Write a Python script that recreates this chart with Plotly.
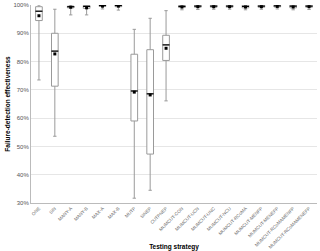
import plotly.graph_objects as go

categories = ["ONE", "SIN", "MANY-A", "MANY-B", "MAX-A", "MAX-B", "MUTP", "SINEP", "CUTPNEP",
              "MUMCUT-CON", "MUMCUT-UCN", "MUMCUT-UNC", "MUMCUT-NCU", "MUMCUT-RCoMA",
              "MUMCUT-MENFP", "MUMCUT-MENEFP", "MUMCUT-RCoMAMENFP", "MUMCUT-RCoMAMENEFP"]
lower = [73.5, 53.6, 96.5, 96.5, 98.6, 98.2, 31.7, 34.5, 66.1,
         98.3, 98.4, 98.5, 98.5, 98.3, 98.5, 98.6, 98.3, 98.4]
q1 = [94.5, 71.3, 99.0, 98.8, 99.5, 99.4, 59.0, 47.3, 80.4,
      99.1, 99.2, 99.2, 99.2, 99.0, 99.2, 99.3, 99.0, 99.2]
median = [97.8, 83.7, 99.4, 99.5, 99.8, 99.8, 69.6, 68.6, 85.9,
          99.5, 99.6, 99.6, 99.6, 99.5, 99.6, 99.7, 99.6, 99.6]
q3 = [99.4, 90.0, 99.6, 99.8, 100.0, 100.0, 82.6, 84.2, 89.3,
      99.8, 99.9, 99.9, 99.9, 99.9, 99.9, 99.9, 99.9, 99.9]
upper = [100.0, 98.5, 100.0, 100.0, 100.0, 100.0, 91.4, 95.3, 98.0,
         100.0, 100.0, 100.0, 100.0, 100.0, 100.0, 100.0, 100.0, 100.0]
mean = [96.2, 82.7, 99.2, 99.0, 99.6, 99.6, 69.2, 68.2, 84.7,
        99.3, 99.4, 99.4, 99.4, 99.3, 99.4, 99.5, 99.3, 99.4]

fig = go.Figure()
fig.add_trace(go.Box(
    x=categories, q1=q1, median=median, q3=q3,
    lowerfence=lower, upperfence=upper,
    fillcolor="white", line=dict(color="#9a9a9a", width=1),
    width=0.42, whiskerwidth=0.5, boxpoints=False, showlegend=False,
    hoverinfo="skip"))
fig.add_trace(go.Scatter(
    x=categories, y=median, mode="markers", showlegend=False,
    marker=dict(symbol="line-ew", size=5, line=dict(color="black", width=1.2))))
fig.add_trace(go.Scatter(
    x=categories, y=mean, mode="markers", showlegend=False,
    marker=dict(symbol="square", size=3, color="black")))

fig.update_layout(
    width=320, height=251,
    margin=dict(l=31, r=3, t=5, b=48),
    plot_bgcolor="white", paper_bgcolor="white",
    font=dict(family="Liberation Sans, Arial, sans-serif", color="#555"),
    xaxis=dict(
        title=dict(text="<b>Testing strategy</b>", font=dict(size=6.5, color="black"), standoff=0),
        tickangle=-45, tickfont=dict(size=4.6, color="#666"), automargin=False,
        showline=True, linecolor="#bbb", linewidth=1, showgrid=False,
        ticks="", range=[-0.5, 17.5]),
    yaxis=dict(
        title=dict(text="<b>Failure-detection effectiveness</b>", font=dict(size=6.5, color="black"), standoff=2),
        range=[30, 100], dtick=10, ticksuffix="%", tickfont=dict(size=6, color="#555"),
        showgrid=True, gridcolor="#e6e6e6", gridwidth=1, automargin=False,
        showline=True, linecolor="#bbb", linewidth=1, zeroline=False),
)
fig.write_html("out.html")
